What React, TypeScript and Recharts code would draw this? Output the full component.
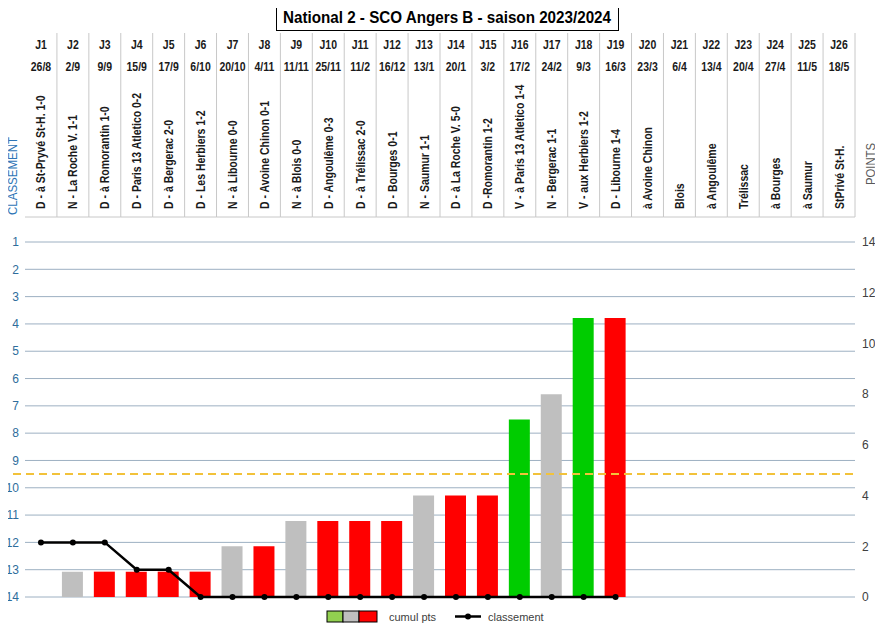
import React from 'react';
import { ComposedChart, Bar, Line, Cell, XAxis, YAxis, CartesianGrid, ReferenceLine } from 'recharts';

const rounds = ['J1', 'J2', 'J3', 'J4', 'J5', 'J6', 'J7', 'J8', 'J9', 'J10', 'J11', 'J12', 'J13', 'J14', 'J15', 'J16', 'J17', 'J18', 'J19', 'J20', 'J21', 'J22', 'J23', 'J24', 'J25', 'J26'];
const dates = ['26/8', '2/9', '9/9', '15/9', '17/9', '6/10', '20/10', '4/11', '11/11', '25/11', '11/2', '16/12', '13/1', '20/1', '3/2', '17/2', '24/2', '9/3', '16/3', '23/3', '6/4', '13/4', '20/4', '27/4', '11/5', '18/5'];
const matches = [
  'D - à St-Pryvé St-H. 1-0', 'N - La Roche V. 1-1', 'D - à Romorantin 1-0', 'D - Paris 13 Atletico 0-2',
  'D - à Bergerac 2-0', 'D - Les Herbiers 1-2', 'N - à Libourne 0-0', 'D - Avoine Chinon 0-1',
  'N - à Blois 0-0', 'D - Angoulême 0-3', 'D - à Trélissac 2-0', 'D - Bourges 0-1', 'N - Saumur 1-1',
  'D - à La Roche V. 5-0', 'D -Romorantin 1-2', 'V - à Paris 13 Atletico 1-4', 'N - Bergerac 1-1',
  'V - aux Herbiers 1-2', 'D - Libourne 1-4', 'à Avoine Chinon', 'Blois', 'à Angoulême', 'Trélissac',
  'à Bourges', 'à Saumur', 'StPrivé St-H.',
];
const results = ['D', 'N', 'D', 'D', 'D', 'D', 'N', 'D', 'N', 'D', 'D', 'D', 'N', 'D', 'D', 'V', 'N', 'V', 'D', '', '', '', '', '', '', ''];
const points = [0, 1, 1, 1, 1, 1, 2, 2, 3, 3, 3, 3, 4, 4, 4, 7, 8, 11, 11, null, null, null, null, null, null, null];
const ranking = [12, 12, 12, 13, 13, 14, 14, 14, 14, 14, 14, 14, 14, 14, 14, 14, 14, 14, 14, null, null, null, null, null, null, null];
const rankTicks = [1, 2, 3, 4, 5, 6, 7, 8, 9, 10, 11, 12, 13, 14];
const pointTicks = [0, 2, 4, 6, 8, 10, 12, 14];
const relegationRank = 9.5;

const resultColors: Record<string, string> = { V: '#00CC00', N: '#BFBFBF', D: '#FF0000', '': '#FFFFFF' };

const data = rounds.map((r, i) => ({
  round: r,
  date: dates[i],
  match: matches[i],
  result: results[i],
  points: points[i],
  ranking: ranking[i],
}));

const FONT = 'Liberation Sans, Arial, sans-serif';
const narrow = 'scale(0.84,1)';

function HeaderTick(props: any) {
  const { x, payload, index } = props;
  const half = payload && payload.offset ? payload.offset : 15.96;
  const d = data[index] || data.find((e) => e.round === payload.value);
  return (
    <g>
      <line x1={x + half} y1={33} x2={x + half} y2={217} stroke="#C8C8C8" strokeWidth={1} />
      <line x1={x - half} y1={217} x2={x + half} y2={217} stroke="#C8C8C8" strokeWidth={1} />
      <g transform={`translate(${x},49) ${narrow}`}>
        <text textAnchor="middle" fontFamily={FONT} fontSize={12.5} fontWeight="bold" fill="#1A1A1A">
          {d.round}
        </text>
      </g>
      <g transform={`translate(${x},71) ${narrow}`}>
        <text textAnchor="middle" fontFamily={FONT} fontSize={12.5} fontWeight="bold" fill="#1A1A1A">
          {d.date}
        </text>
      </g>
      <g transform={`translate(${x + 4.5},209) rotate(-90) ${narrow}`}>
        <text textAnchor="start" fontFamily={FONT} fontSize={12.5} fontWeight="bold" fill="#1A1A1A">
          {d.match}
        </text>
      </g>
    </g>
  );
}

export default function App() {
  return (
    <div style={{ position: 'relative', width: 883, height: 627, marginLeft: -8, marginTop: -8, background: '#fff' }}>
      <ComposedChart width={883} height={627} data={data} margin={{ top: 35, right: 0, bottom: 30, left: 0 }} barGap={0}>
        <CartesianGrid yAxisId="rank" vertical={false} stroke="#9DB0C2" strokeWidth={1} />
        <XAxis
          dataKey="round"
          orientation="top"
          height={207}
          axisLine={false}
          tickLine={false}
          interval={0}
          tick={<HeaderTick />}
        />
        <YAxis
          yAxisId="rank"
          orientation="left"
          width={25}
          domain={[1, 14]}
          reversed
          ticks={rankTicks}
          interval={0}
          axisLine={false}
          tickLine={false}
          tickSize={0}
          tickMargin={6}
          tick={{ fill: '#2E6D9C', fontSize: 12, fontFamily: FONT }}
        />
        <YAxis
          yAxisId="pts"
          orientation="right"
          width={28}
          domain={[0, 14]}
          ticks={pointTicks}
          interval={0}
          axisLine={false}
          tickLine={false}
          tickSize={0}
          tickMargin={7}
          tick={{ fill: '#404040', fontSize: 12, fontFamily: FONT }}
        />
        <ReferenceLine
          yAxisId="rank"
          y={relegationRank}
          stroke="#F2C23A"
          strokeWidth={2}
          strokeDasharray="8 5"
          shape={(p: any) => (
            <line x1={0} y1={p.y1} x2={p.x2} y2={p.y2} stroke="#F2C23A" strokeWidth={2} strokeDasharray="8 5" />
          )}
        />
        <Bar yAxisId="pts" dataKey="points" barSize={21} isAnimationActive={false}>
          {data.map((e, i) => (
            <Cell key={i} fill={resultColors[e.result]} />
          ))}
        </Bar>
        <Line
          yAxisId="rank"
          dataKey="ranking"
          stroke="#000000"
          strokeWidth={2.5}
          dot={{ r: 3, fill: '#000000', stroke: '#000000', strokeWidth: 0 }}
          activeDot={false}
          isAnimationActive={false}
        />
      </ComposedChart>
      <svg width={883} height={627} style={{ position: 'absolute', left: 0, top: 0, pointerEvents: 'none' }}>
        <rect x={276.5} y={3.5} width={342} height={27} fill="#fff" stroke="#000" strokeWidth={1} />
        <text
          x={447}
          y={23}
          textAnchor="middle"
          fontFamily={FONT}
          fontSize={16.5}
          fontWeight="bold"
          fill="#000"
          textLength={328}
          lengthAdjust="spacingAndGlyphs"
        >
          National 2 - SCO Angers B - saison 2023/2024
        </text>
        <text
          transform="translate(16.5,176) rotate(-90)"
          textAnchor="middle"
          fontFamily={FONT}
          fontSize={12}
          fill="#2E75B6"
          textLength={78}
          lengthAdjust="spacingAndGlyphs"
        >
          CLASSEMENT
        </text>
        <text
          transform="translate(875,164) rotate(-90)"
          textAnchor="middle"
          fontFamily={FONT}
          fontSize={13}
          fill="#595959"
          textLength={42}
          lengthAdjust="spacingAndGlyphs"
        >
          POINTS
        </text>
        <g>
          <rect x={327} y={611} width={16} height={11} fill="#92D050" stroke="#000" strokeWidth={1} />
          <rect x={343} y={611} width={16} height={11} fill="#BFBFBF" stroke="#000" strokeWidth={1} />
          <rect x={359} y={611} width={18} height={11} fill="#FF0000" stroke="#000" strokeWidth={1} />
          <text x={389} y={621} fontFamily={FONT} fontSize={11} fill="#404040">
            cumul pts
          </text>
          <line x1={455} y1={616.5} x2={481} y2={616.5} stroke="#000" strokeWidth={2.5} />
          <circle cx={468} cy={616.5} r={3} fill="#000" />
          <text x={488} y={621} fontFamily={FONT} fontSize={11} fill="#404040">
            classement
          </text>
        </g>
      </svg>
    </div>
  );
}
